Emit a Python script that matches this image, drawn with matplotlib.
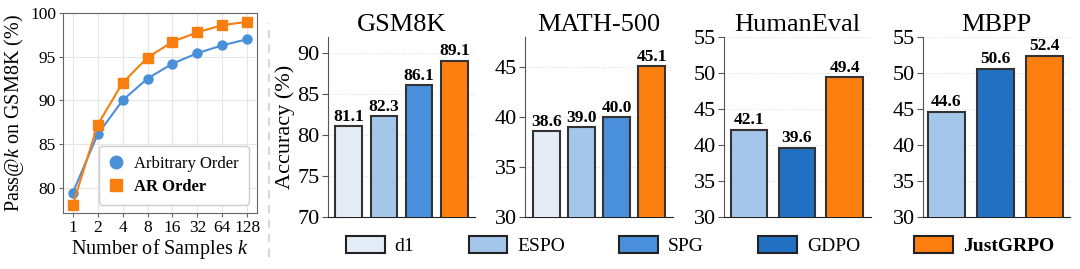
import matplotlib
matplotlib.use('Agg')
import matplotlib.pyplot as plt
from matplotlib.patches import Patch
from matplotlib.lines import Line2D

plt.rcParams['font.family'] = 'serif'
plt.rcParams['font.serif'] = ['Liberation Serif', 'DejaVu Serif']
plt.rcParams['mathtext.fontset'] = 'custom'
plt.rcParams['mathtext.it'] = 'Liberation Serif:italic'
plt.rcParams['mathtext.rm'] = 'Liberation Serif'

# Pass@k data (left panel)
k_labels = ['1', '2', '4', '8', '16', '32', '64', '128']
arbitrary_order = [79.4, 86.1, 90.0, 92.5, 94.2, 95.4, 96.3, 97.0]
ar_order = [78.0, 87.2, 92.0, 94.9, 96.7, 97.8, 98.6, 99.0]

# Benchmark accuracy data (right panels)
methods = ['d1', 'ESPO', 'SPG', 'GDPO', 'JustGRPO']
method_colors = ['#e4ecf7', '#a4c6e9', '#4a8fd9', '#2270c2', '#fd7f10']
benchmarks = ['GSM8K', 'MATH-500', 'HumanEval', 'MBPP']
gsm8k_methods = ['d1', 'ESPO', 'SPG', 'JustGRPO']
gsm8k_vals = [81.1, 82.3, 86.1, 89.1]
math_methods = ['d1', 'ESPO', 'SPG', 'JustGRPO']
math_vals = [38.6, 39.0, 40.0, 45.1]
humaneval_methods = ['ESPO', 'GDPO', 'JustGRPO']
humaneval_vals = [42.1, 39.6, 49.4]
mbpp_methods = ['ESPO', 'GDPO', 'JustGRPO']
mbpp_vals = [44.6, 50.6, 52.4]

W, H = 1080, 269
fig = plt.figure(figsize=(W / 100, H / 100), dpi=100)


def px(l, t, r, b):
    return [l / W, 1 - b / H, (r - l) / W, (b - t) / H]


blue, orange = '#4a90d9', '#f77f0f'

# ---- left panel: pass@k ----
ax = fig.add_axes(px(63, 13, 257, 213))
x = list(range(len(k_labels)))
ax.plot(x, arbitrary_order, 'o-', color=blue, lw=1.5, ms=6.5, zorder=3)
ax.plot(x, ar_order, 's-', color=orange, lw=1.5, ms=6.5, zorder=3)
ax.set_xticks(x)
ax.set_xticklabels(k_labels)
ax.set_xlim(-0.39, 7.39)
ax.set_ylim(77.1, 100)
ax.set_yticks([80, 85, 90, 95, 100])
ax.tick_params(labelsize=12.5, length=3, color='#666', pad=2)
ax.grid(True, color='#e6e6e6', lw=0.8)
ax.set_axisbelow(True)
for s in ax.spines.values():
    s.set_color('#666')
ax.set_xlabel('Number of Samples $k$', fontsize=14.5, labelpad=1)
ax.set_ylabel('Pass@$k$ on GSM8K (%)', fontsize=14.5, labelpad=3)
lh = [Line2D([], [], marker='o', ls='none', color=blue, ms=9),
      Line2D([], [], marker='s', ls='none', color=orange, ms=8.5)]
leg = ax.legend(lh, ['Arbitrary Order', 'AR Order'], loc='lower right',
                fontsize=12, edgecolor='#cccccc', fancybox=True,
                framealpha=1, handlelength=0.8, handletextpad=0.7,
                borderpad=0.6, labelspacing=0.4, borderaxespad=0.5)
leg.get_texts()[1].set_fontweight('bold')

# separator
fig.add_artist(Line2D([269 / W, 269 / W], [1 - 257 / H, 1 - 23 / H],
                      color='#d8d8d8', lw=1.5, ls=(0, (4, 3))))

# ---- right panels: bars ----
panels = [
    (gsm8k_methods, gsm8k_vals, (70, 92), [70, 75, 80, 85, 90], (328, 475), (-0.59, 3.59)),
    (math_methods, math_vals, (30, 48), [30, 35, 40, 45], (525, 673), (-0.62, 3.61)),
    (humaneval_methods, humaneval_vals, (30, 55), [30, 35, 40, 45, 50, 55], (724, 871), (-0.52, 2.55)),
    (mbpp_methods, mbpp_vals, (30, 55), [30, 35, 40, 45, 50, 55], (923, 1070), (-0.48, 2.53)),
]
for i, (mlist, vals, ylim, yticks, (l, r), xlim) in enumerate(panels):
    bax = fig.add_axes(px(l, 37, r, 217))
    cols = [method_colors[methods.index(m)] for m in mlist]
    pos = list(range(len(vals)))
    bars = bax.bar(pos, vals, width=0.76, color=cols, edgecolor='#333333',
                   linewidth=1.5, zorder=3)
    for b, v in zip(bars, vals):
        bax.text(b.get_x() + b.get_width() / 2, v + (ylim[1] - ylim[0]) * 0.008,
                 f'{v:.1f}', ha='center', va='bottom', fontsize=12.5,
                 fontweight='bold', zorder=4)
    bax.set_xlim(*xlim)
    bax.set_ylim(*ylim)
    bax.set_yticks(yticks)
    bax.set_xticks([])
    bax.tick_params(axis='y', labelsize=16, length=4, color='#555', pad=2)
    bax.grid(True, axis='y', color='#e0e0e0', ls=':', lw=0.8)
    bax.set_axisbelow(True)
    bax.spines['top'].set_visible(False)
    bax.spines['right'].set_visible(False)
    bax.spines['left'].set_color('#555')
    bax.spines['bottom'].set_color('#222')
    bax.set_title(benchmarks[i], fontsize=19, pad=4)
    if i == 0:
        bax.set_ylabel('Accuracy (%)', fontsize=16, labelpad=2)

handles = [Patch(facecolor=c, edgecolor='#222222', lw=1.5) for c in method_colors]
fleg = fig.legend(handles, methods, loc='center', ncol=5, frameon=False,
                  bbox_to_anchor=(700 / W, 1 - 245.5 / H), fontsize=14,
                  handlelength=2.0, handleheight=1.0, handletextpad=0.5,
                  columnspacing=2.8)
fleg.get_texts()[4].set_fontweight('bold')

fig.savefig('out.png', dpi=100)
